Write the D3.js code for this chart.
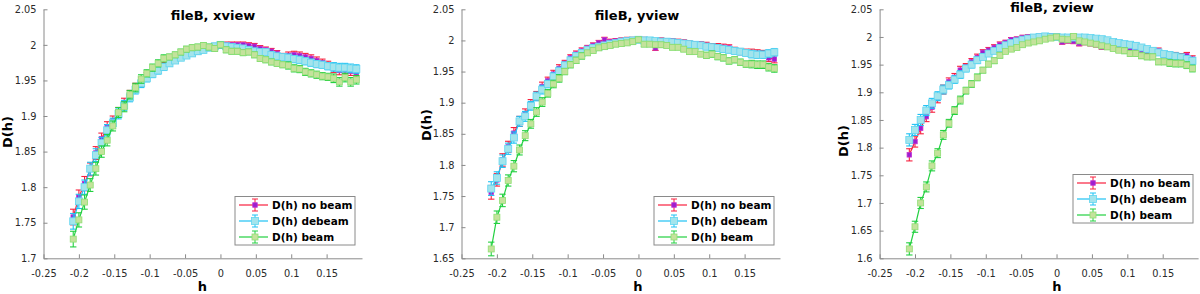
<!DOCTYPE html>
<html>
<head>
<meta charset="utf-8">
<script src="https://cdn.jsdelivr.net/npm/d3@7"></script>
<style>
body { margin: 0; background: #fff; }
svg { display: block; font-family: "DejaVu Sans", sans-serif; }
</style>
</head>
<body>
<svg id="chart" width="1200" height="294"></svg>
<script>
// h values shared by all three views
var hValues = [-0.208, -0.2, -0.192, -0.184, -0.176, -0.168, -0.16, -0.152, -0.144, -0.136,
    -0.128, -0.12, -0.112, -0.104, -0.096, -0.088, -0.08, -0.072, -0.064, -0.056,
    -0.048, -0.04, -0.032, -0.024, -0.016, -0.008, 0, 0.008, 0.016, 0.024,
    0.032, 0.04, 0.048, 0.056, 0.064, 0.072, 0.08, 0.088, 0.096, 0.104,
    0.112, 0.12, 0.128, 0.136, 0.144, 0.152, 0.16, 0.168, 0.176, 0.184,
    0.192];

// error bar half-heights
var errBar = [0.011, 0.010, 0.010, 0.009, 0.009, 0.008, 0.008, 0.007, 0.007, 0.007,
    0.006, 0.006, 0.006, 0.005, 0.005, 0.005, 0.005, 0.004, 0.004, 0.004,
    0.004, 0.004, 0.004, 0.004, 0.004, 0.004, 0.004, 0.004, 0.004, 0.004,
    0.004, 0.004, 0.004, 0.004, 0.004, 0.004, 0.004, 0.004, 0.005, 0.005,
    0.005, 0.005, 0.005, 0.005, 0.005, 0.005, 0.006, 0.006, 0.006, 0.006,
    0.006];

// xview
var xNoBeam = [1.758, 1.786, 1.805, 1.825, 1.848, 1.868, 1.884, 1.893, 1.905, 1.918,
    1.930, 1.940, 1.948, 1.956, 1.960, 1.965, 1.970, 1.975, 1.980, 1.984,
    1.986, 1.989, 1.991, 1.994, 1.996, 1.998, 1.999, 2.000, 2.000, 2.000,
    2.000, 1.999, 1.998, 1.995, 1.993, 1.991, 1.988, 1.984, 1.985, 1.986,
    1.985, 1.983, 1.981, 1.978, 1.975, 1.972, 1.967, 1.964, 1.965, 1.963,
    1.961];
var xDebeam = [1.752, 1.780, 1.800, 1.826, 1.845, 1.862, 1.880, 1.890, 1.903, 1.915,
    1.926, 1.937, 1.946, 1.953, 1.959, 1.964, 1.969, 1.974, 1.978, 1.982,
    1.985, 1.988, 1.991, 1.993, 1.996, 1.998, 2.000, 1.998, 1.997, 1.996,
    1.995, 1.993, 1.991, 1.990, 1.990, 1.986, 1.984, 1.983, 1.982, 1.980,
    1.979, 1.977, 1.975, 1.973, 1.972, 1.970, 1.969, 1.968, 1.968, 1.967,
    1.966];
var xBeam = [1.727, 1.754, 1.779, 1.803, 1.826, 1.850, 1.866, 1.886, 1.905, 1.913,
    1.930, 1.940, 1.952, 1.960, 1.968, 1.974, 1.981, 1.983, 1.986, 1.990,
    1.994, 1.996, 1.997, 1.999, 1.997, 1.995, 2.000, 1.993, 1.991, 1.991,
    1.989, 1.990, 1.986, 1.981, 1.979, 1.976, 1.974, 1.972, 1.971, 1.967,
    1.966, 1.962, 1.960, 1.958, 1.956, 1.955, 1.953, 1.948, 1.954, 1.948,
    1.951];

// yview
var yNoBeam = [1.756, 1.776, 1.808, 1.829, 1.851, 1.870, 1.882, 1.898, 1.911, 1.926,
    1.935, 1.946, 1.955, 1.963, 1.972, 1.978, 1.983, 1.988, 1.992, 1.996,
    2.001, 1.998, 1.999, 2.000, 2.001, 2.001, 2.002, 2.001, 2.000, 1.988,
    2.000, 1.999, 1.999, 1.998, 1.997, 1.995, 1.994, 1.994, 1.992, 1.990,
    1.990, 1.989, 1.988, 1.984, 1.982, 1.981, 1.980, 1.979, 1.978, 1.972,
    1.970];
var yDebeam = [1.762, 1.779, 1.806, 1.826, 1.844, 1.870, 1.878, 1.895, 1.910, 1.921,
    1.930, 1.942, 1.951, 1.960, 1.968, 1.975, 1.980, 1.985, 1.988, 1.990,
    1.992, 1.994, 1.996, 1.998, 1.999, 2.000, 2.001, 2.000, 2.000, 1.999,
    1.998, 1.998, 1.997, 1.996, 1.995, 1.994, 1.993, 1.992, 1.990, 1.989,
    1.988, 1.986, 1.985, 1.983, 1.982, 1.980, 1.978, 1.977, 1.977, 1.979,
    1.981];
var yBeam = [1.665, 1.716, 1.743, 1.775, 1.798, 1.824, 1.847, 1.866, 1.885, 1.901,
    1.915, 1.930, 1.939, 1.950, 1.961, 1.968, 1.975, 1.980, 1.984, 1.988,
    1.990, 1.992, 1.994, 1.995, 1.996, 1.998, 2.001, 1.994, 1.994, 1.993,
    1.993, 1.992, 1.989, 1.989, 1.986, 1.982, 1.982, 1.978, 1.976, 1.978,
    1.974, 1.972, 1.967, 1.969, 1.965, 1.962, 1.962, 1.961, 1.961, 1.957,
    1.955];

// zview
var zNoBeam = [1.787, 1.811, 1.835, 1.856, 1.873, 1.889, 1.905, 1.919, 1.927, 1.940,
    1.946, 1.955, 1.963, 1.972, 1.976, 1.981, 1.986, 1.990, 1.995, 1.996,
    1.999, 2.000, 2.000, 2.001, 2.002, 2.002, 2.001, 1.991, 1.993, 1.992,
    1.988, 1.990, 1.988, 1.986, 1.982, 1.982, 1.981, 1.984, 1.982, 1.980,
    1.977, 1.975, 1.972, 1.970, 1.975, 1.968, 1.966, 1.966, 1.964, 1.966,
    1.960];
var zDebeam = [1.814, 1.832, 1.850, 1.867, 1.880, 1.893, 1.905, 1.913, 1.923, 1.932,
    1.943, 1.950, 1.958, 1.964, 1.970, 1.975, 1.980, 1.985, 1.989, 1.992,
    1.995, 1.997, 1.999, 2.000, 2.001, 2.000, 2.000, 1.999, 1.999, 1.999,
    1.999, 1.999, 1.998, 1.997, 1.996, 1.994, 1.991, 1.989, 1.987, 1.986,
    1.984, 1.981, 1.978, 1.975, 1.972, 1.969, 1.967, 1.965, 1.963, 1.960,
    1.957];
var zBeam = [1.617, 1.657, 1.700, 1.729, 1.767, 1.790, 1.823, 1.844, 1.867, 1.886,
    1.903, 1.915, 1.927, 1.940, 1.951, 1.957, 1.967, 1.974, 1.978, 1.981,
    1.986, 1.989, 1.991, 1.993, 1.996, 1.998, 2.000, 1.996, 1.995, 2.001,
    1.993, 1.991, 1.989, 1.987, 1.984, 1.982, 1.979, 1.976, 1.975, 1.970,
    1.970, 1.966, 1.964, 1.964, 1.955, 1.955, 1.953, 1.952, 1.952, 1.949,
    1.943];

var seriesNames = ["D(h) no beam", "D(h) debeam", "D(h) beam"];
var xTicks = [-0.25, -0.2, -0.15, -0.1, -0.05, 0, 0.05, 0.1, 0.15];
var yTicksX = [1.7, 1.75, 1.8, 1.85, 1.9, 1.95, 2, 2.05];
var yTicksY = [1.65, 1.7, 1.75, 1.8, 1.85, 1.9, 1.95, 2, 2.05];
var yTicksZ = [1.6, 1.65, 1.7, 1.75, 1.8, 1.85, 1.9, 1.95, 2, 2.05];

// look of each series: line, marker fill, marker edge, marker size
var styles = [
    {line: "#f8203e", fill: "#9b1fd0", edge: "#c52fd0", size: 4.5},
    {line: "#1ec2f4", fill: "#a3e4ec", edge: "#5fd5f0", size: 7},
    {line: "#22d040", fill: "#c4e29c", edge: "#8ede72", size: 6}
];

var panels = [
    {title: "fileB, xview", series: [xNoBeam, xDebeam, xBeam], yDom: [1.7, 2.05], yTicks: yTicksX,
     left: 43.5, titleX: 213, titleY: 20, hX: 202.5, dhX: 7, dhY: 132, legX: 235, legY: 196.5},
    {title: "fileB, yview", series: [yNoBeam, yDebeam, yBeam], yDom: [1.65, 2.05], yTicks: yTicksY,
     left: 461.5, titleX: 637, titleY: 20, hX: 638, dhX: 426, dhY: 125, legX: 654, legY: 196.5},
    {title: "fileB, zview", series: [zNoBeam, zDebeam, zBeam], yDom: [1.6, 2.05], yTicks: yTicksZ,
     left: 879.6, titleX: 1052, titleY: 11.5, hX: 1057, dhX: 843, dhY: 141, legX: 1073, legY: 174.5}
];

var plotW = 318.5, plotTop = 9.3, plotBottom = 258.3;
var axisColor = "#8a8a8a", textColor = "#2a2a2a";

function fmt(v) { return String(+v.toFixed(2)); }

var svg = d3.select("#chart");

panels.forEach(function (p) {
    var x = d3.scaleLinear().domain([-0.25, 0.2]).range([p.left, p.left + plotW]);
    var y = d3.scaleLinear().domain(p.yDom).range([plotBottom, plotTop]);
    var g = svg.append("g");

    //ejes
    var gx = g.append("g")
        .attr("transform", "translate(0," + plotBottom + ")")
        .call(d3.axisBottom(x).tickValues(xTicks).tickFormat(fmt).tickSize(-4).tickSizeOuter(0).tickPadding(12));
    var gy = g.append("g")
        .attr("transform", "translate(" + p.left + ",0)")
        .call(d3.axisLeft(y).tickValues(p.yTicks).tickFormat(fmt).tickSize(-4).tickSizeOuter(0).tickPadding(7));
    [gx, gy].forEach(function (a) {
        a.select(".domain").attr("stroke", axisColor);
        a.selectAll(".tick line").attr("stroke", axisColor);
        a.selectAll(".tick text").attr("fill", textColor).style("font-size", "9.8px").style("font-family", "DejaVu Sans");
    });

    //series
    p.series.forEach(function (vals, k) {
        var st = styles[k];
        var pts = hValues.map(function (h, i) { return {h: h, v: vals[i], e: errBar[i]}; });
        var sg = g.append("g");
        sg.append("path")
            .datum(pts)
            .attr("fill", "none")
            .attr("stroke", st.line)
            .attr("stroke-width", 1.2)
            .attr("d", d3.line().x(function (d) { return x(d.h); }).y(function (d) { return y(d.v); }));
        var eb = sg.selectAll(".eb").data(pts).enter().append("g").attr("stroke", st.line).attr("stroke-width", 1.1);
        eb.append("line")
            .attr("x1", function (d) { return x(d.h); }).attr("x2", function (d) { return x(d.h); })
            .attr("y1", function (d) { return y(d.v - d.e); }).attr("y2", function (d) { return y(d.v + d.e); });
        eb.append("line")
            .attr("x1", function (d) { return x(d.h) - 3.2; }).attr("x2", function (d) { return x(d.h) + 3.2; })
            .attr("y1", function (d) { return y(d.v + d.e); }).attr("y2", function (d) { return y(d.v + d.e); });
        eb.append("line")
            .attr("x1", function (d) { return x(d.h) - 3.2; }).attr("x2", function (d) { return x(d.h) + 3.2; })
            .attr("y1", function (d) { return y(d.v - d.e); }).attr("y2", function (d) { return y(d.v - d.e); });
        sg.selectAll("rect").data(pts).enter().append("rect")
            .attr("x", function (d) { return x(d.h) - st.size / 2; })
            .attr("y", function (d) { return y(d.v) - st.size / 2; })
            .attr("width", st.size).attr("height", st.size)
            .attr("fill", st.fill).attr("stroke", st.edge).attr("stroke-width", 0.8);
    });

    //titulos
    g.append("text").attr("x", p.titleX).attr("y", p.titleY)
        .attr("text-anchor", "middle").style("font-weight", "bold").style("font-size", "13px")
        .attr("fill", "#000").text(p.title);
    g.append("text").attr("x", p.hX).attr("y", 291)
        .attr("text-anchor", "middle").style("font-weight", "bold").style("font-size", "13px")
        .attr("fill", "#000").text("h");
    g.append("text").attr("transform", "translate(" + (p.dhX + 4.5) + "," + p.dhY + ") rotate(-90)")
        .attr("text-anchor", "middle").style("font-weight", "bold").style("font-size", "13px")
        .attr("fill", "#000").text("D(h)");

    //leyenda
    var leg = g.append("g").attr("transform", "translate(" + p.legX + "," + p.legY + ")");
    leg.append("rect").attr("width", 120).attr("height", 48.5)
        .attr("fill", "#fff").attr("stroke", axisColor).attr("stroke-width", 1);
    seriesNames.forEach(function (name, k) {
        var st = styles[k];
        var cy = 8.5 + 16 * k, cx = 20;
        leg.append("line").attr("x1", 4).attr("x2", 33).attr("y1", cy).attr("y2", cy)
            .attr("stroke", st.line).attr("stroke-width", 1.2);
        leg.append("line").attr("x1", cx).attr("x2", cx).attr("y1", cy - 6).attr("y2", cy + 6)
            .attr("stroke", st.line);
        leg.append("line").attr("x1", cx - 3).attr("x2", cx + 3).attr("y1", cy - 6).attr("y2", cy - 6)
            .attr("stroke", st.line);
        leg.append("line").attr("x1", cx - 3).attr("x2", cx + 3).attr("y1", cy + 6).attr("y2", cy + 6)
            .attr("stroke", st.line);
        leg.append("rect").attr("x", cx - st.size / 2).attr("y", cy - st.size / 2)
            .attr("width", st.size).attr("height", st.size)
            .attr("fill", st.fill).attr("stroke", st.edge).attr("stroke-width", 0.8);
        leg.append("text").attr("x", 37).attr("y", cy + 4)
            .style("font-weight", "bold").style("font-size", "10.5px").attr("fill", "#000")
            .text(name);
    });
});
</script>
</body>
</html>
